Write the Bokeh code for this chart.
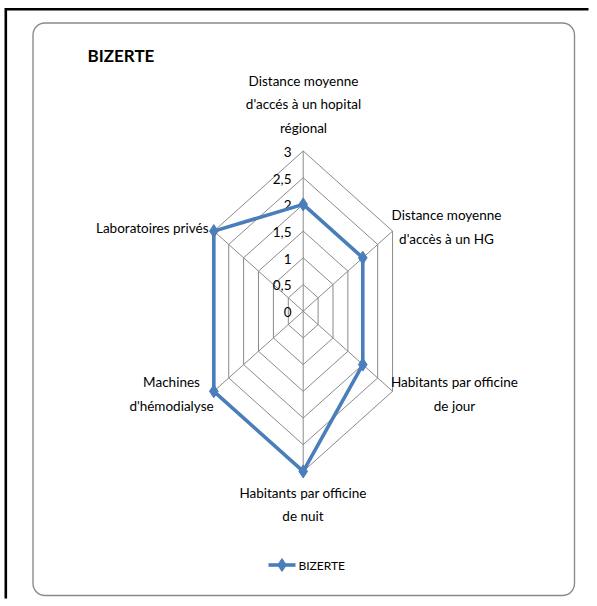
import numpy as np
from bokeh.plotting import figure
from bokeh.models import Range1d, BoxAnnotation
from bokeh.core.properties import value
from bokeh.embed import file_html
from bokeh.resources import INLINE

# ---------------- data ----------------
title = "BIZERTE"
series_name = "BIZERTE"
categories = [
    ["Distance moyenne", "d'accés à un hopital", "régional"],
    ["Distance moyenne", "d'accès à un HG"],
    ["Habitants par officine", "de jour"],
    ["Habitants par officine", "de nuit"],
    ["Machines", "d'hémodialyse"],
    ["Laboratoires privés"],
]
values = [2, 2, 2, 3, 3, 3]
ring_levels = [0.5, 1, 1.5, 2, 2.5, 3]
tick_values = [0, 0.5, 1, 1.5, 2, 2.5, 3]
tick_labels = ["0", "0,5", "1", "1,5", "2", "2,5", "3"]
r_max = 3

# ---------------- layout ----------------
W, H = 597, 606
OX, OY = 0, 0              # page position of the figure
CX, CY = 302.7, 310.7      # radar centre in page pixels
UX, UY = 34.4, 53.4        # pixels per unit horizontally / vertically

def X(px):
    return (px - CX) / UX

def Y(py):
    return (CY - py) / UY

FONT = "Lato"
TXT = "#000000"
BLUE = "#4a7ebb"
GRID = "#8a8a8a"

p = figure(width=W, height=H, output_backend="svg", toolbar_location=None,
           x_range=Range1d(X(OX), X(OX + W)), y_range=Range1d(Y(OY + H), Y(OY)),
           x_axis_location=None, y_axis_location=None, min_border=0)
p.grid.visible = False
p.outline_line_color = None
p.background_fill_color = "white"
p.border_fill_color = "white"

# outer black frame (only its top and left edges are in view)
p.line([X(588), X(5.3), X(5.3)], [Y(8.7), Y(8.7), Y(598)],
       line_color="black", line_width=2.6, line_join="miter")

# rounded chart area
p.add_layout(BoxAnnotation(left=X(32.5), right=X(574), top=Y(22.5), bottom=Y(595),
                           border_radius=12, fill_alpha=0, line_color="#8a8a8a",
                           line_alpha=1, line_width=1.4))

n = len(values)
angles = np.pi / 2 - np.arange(n) * 2 * np.pi / n
ca, sa = np.cos(angles), np.sin(angles)

# rings
ring_xs = [list(np.append(r * ca, r * ca[0])) for r in ring_levels]
ring_ys = [list(np.append(r * sa, r * sa[0])) for r in ring_levels]
p.multi_line(ring_xs, ring_ys, line_color=GRID, line_width=1)

# spokes
p.segment(x0=np.zeros(n), y0=np.zeros(n), x1=r_max * ca, y1=r_max * sa,
          line_color=GRID, line_width=1)

# tick labels along the vertical axis
p.text(x=[X(291)] * len(tick_values), y=[t - 0.8 / UY for t in tick_values],
       text=tick_labels, text_align="right", text_baseline="middle",
       text_font=value(FONT), text_font_size="13.5px", text_color=TXT)

# series
v = np.array(values, dtype=float)
sx, sy = v * ca, v * sa
p.line(np.append(sx, sx[0]), np.append(sy, sy[0]), line_color=BLUE, line_width=3.6,
       line_join="round")
p.scatter(sx, sy, marker="diamond", size=13, fill_color=BLUE, line_color=BLUE)

# category labels: (anchor x, first line y, align) in page pixels
label_pos = [
    (303, 80, "center"),
    (446, 214.5, "center"),
    (454, 381.5, "center"),
    (302.5, 492, "center"),
    (171, 381.5, "center"),
    (208, 227.5, "right"),
]
LINE_H = 23.8
for lines, (ax, ay, al) in zip(categories, label_pos):
    p.text(x=[X(ax)] * len(lines), y=[Y(ay + i * LINE_H) for i in range(len(lines))],
           text=lines, text_align=al, text_baseline="middle",
           text_font=value(FONT), text_font_size="13.5px", text_color=TXT)

# title
p.text(x=[X(87)], y=[Y(55)], text=[title], text_align="left", text_baseline="middle",
       text_font=value(FONT), text_font_size="17px", text_font_style="bold",
       text_color=TXT)

# legend
p.line([X(268), X(295)], [Y(564.5), Y(564.5)], line_color=BLUE, line_width=3.6)
p.scatter([X(281.5)], [Y(564.5)], marker="diamond", size=13, fill_color=BLUE,
          line_color=BLUE)
p.text(x=[X(298)], y=[Y(565)], text=[series_name], text_align="left",
       text_baseline="middle", text_font=value(FONT), text_font_size="12px",
       text_color=TXT)

open("out.html", "w").write(file_html(p, INLINE))
